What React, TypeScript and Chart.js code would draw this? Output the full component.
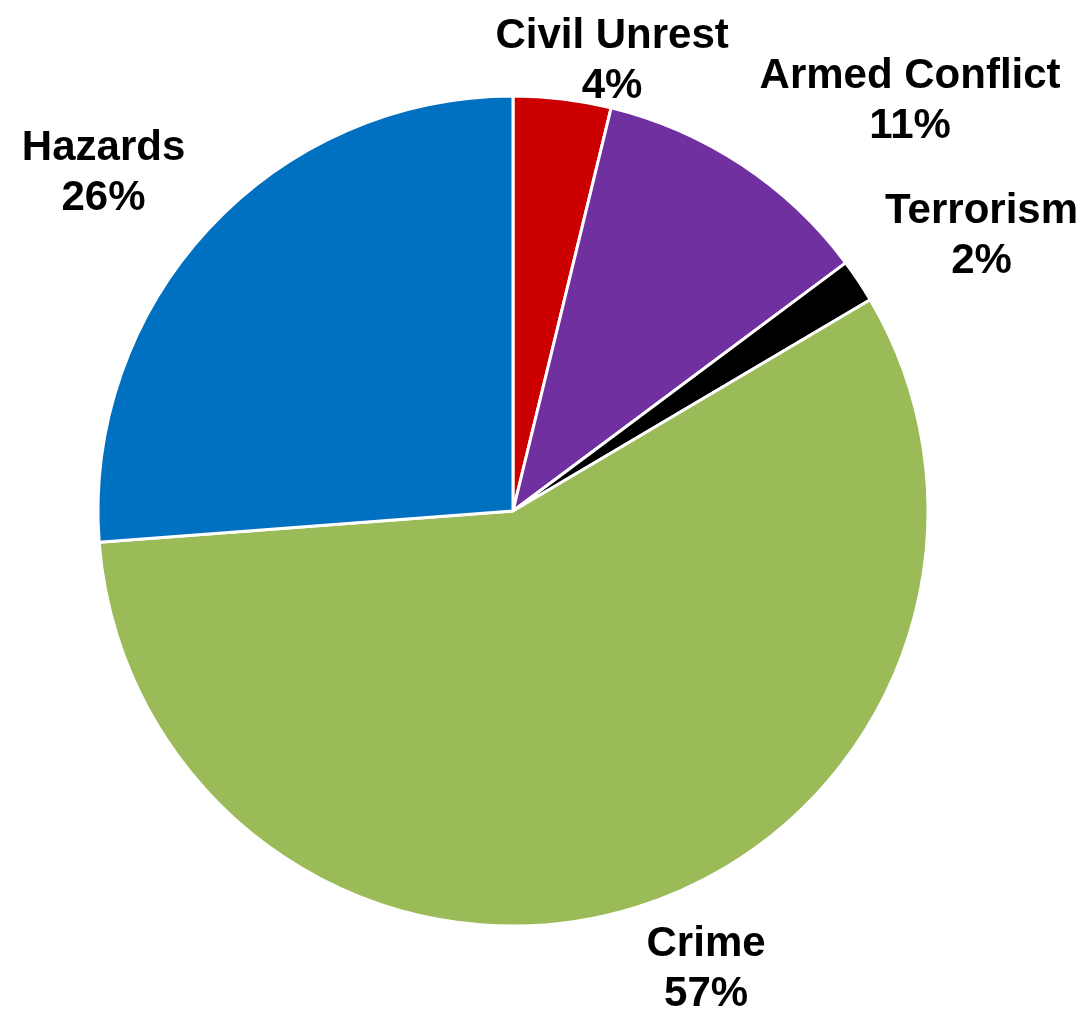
import React, { useEffect, useRef } from "react";
import { Chart, registerables } from "chart.js";

Chart.register(...registerables);

const categories = ["Civil Unrest", "Armed Conflict", "Terrorism", "Crime", "Hazards"];
const shares = [3.8, 11.0, 1.7, 57.3, 26.2];
const sliceColors = ["#CC0000", "#7030A0", "#000000", "#9BBB59", "#0070C0"];

const FONT_SIZE = 42;
const LINE_H = 50;
const CAP_H = 30;
const GAP = 32;
const KX = 3.3;
const KY = 1.35;

const outsideLabels = {
  id: "outsideLabels",
  afterDraw(chart: any) {
    const ctx = chart.ctx as CanvasRenderingContext2D;
    const meta = chart.getDatasetMeta(0);
    const total = shares.reduce((a, b) => a + b, 0);
    const W = chart.width;
    const H = chart.height;
    ctx.save();
    ctx.font = `bold ${FONT_SIZE}px "Liberation Sans", Arial, sans-serif`;
    ctx.fillStyle = "#000";
    ctx.textAlign = "center";
    ctx.textBaseline = "alphabetic";
    meta.data.forEach((arc: any, i: number) => {
      const lines = [categories[i], Math.round((shares[i] / total) * 100) + "%"];
      const w = Math.max(...lines.map((l) => ctx.measureText(l).width));
      const h = CAP_H + LINE_H * (lines.length - 1);
      const a = (arc.startAngle + arc.endAngle) / 2;
      const dx = Math.cos(a);
      const dy = Math.sin(a);
      const r = arc.outerRadius + GAP;
      const ax = arc.x + r * dx;
      const ay = arc.y + r * dy;
      const fx = Math.max(-1, Math.min(1, dx * KX));
      const fy = Math.max(-1, Math.min(1, dy * KY));
      let cx = ax + (w / 2) * fx;
      const cy = ay + (h / 2) * fy;
      let top = cy - h / 2;
      if (top < 18) top = 18;
      if (top + h > H - 5) top = H - 5 - h;
      if (cx + w / 2 > W - 6) cx = W - 6 - w / 2;
      if (cx - w / 2 < 6) cx = 6 + w / 2;
      lines.forEach((l, j) => {
        ctx.fillText(l, cx, top + CAP_H + j * LINE_H);
      });
    });
    ctx.restore();
  },
};

export default function App() {
  const ref = useRef<HTMLCanvasElement | null>(null);
  useEffect(() => {
    if (!ref.current) return;
    const chart = new Chart(ref.current, {
      type: "pie",
      data: {
        labels: categories,
        datasets: [
          {
            data: shares,
            backgroundColor: sliceColors,
            borderColor: "#FFFFFF",
            borderWidth: 3,
          },
        ],
      },
      options: {
        animation: false,
        responsive: true,
        maintainAspectRatio: false,
        layout: { padding: { left: 96.5, right: 160.5, top: 94.5, bottom: 83.5 } },
        plugins: {
          legend: { display: false },
          tooltip: { enabled: false },
        },
      },
      plugins: [outsideLabels],
    });
    return () => chart.destroy();
  }, []);
  return (
    <div style={{ position: "fixed", left: 0, top: 0, width: 1090, height: 1011, background: "#fff" }}>
      <canvas ref={ref} />
    </div>
  );
}
